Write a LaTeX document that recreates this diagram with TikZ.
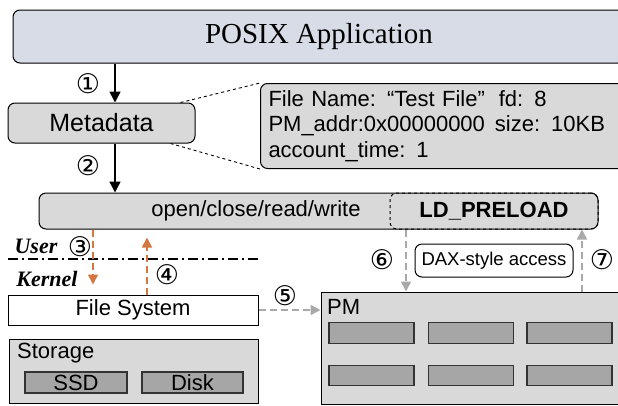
\documentclass[tikz,border=0pt]{standalone}
\usepackage{fontspec}
\setmainfont{Liberation Serif}
\setsansfont{Liberation Sans}
\newfontfamily\circfont{DejaVu Sans}
\usetikzlibrary{arrows.meta}
\definecolor{appblue}{HTML}{D8DCE6}
\definecolor{boxgray}{HTML}{D9D9D9}
\definecolor{chipgray}{HTML}{A6A6A6}
\definecolor{kernelorange}{HTML}{D2773F}
\definecolor{daxgray}{HTML}{A9A9A9}
\newcommand{\fsz}[1]{\fontsize{#1}{#1}\selectfont}
\tikzstyle{layer}=[draw=black, line width=1pt, inner sep=0pt]
\tikzstyle{layer_round}=[layer, rounded corners=7pt]
\tikzstyle{sans_text}=[font=\sffamily\fsz{22}]
\tikzstyle{circ_num}=[font=\circfont\fsz{27}, inner sep=0pt]
\tikzstyle{chip}=[layer, fill=chipgray, draw=black!80, line width=1.2pt]
\tikzstyle{call_arrow}=[line width=1.5pt, -{Triangle[width=11pt,length=11pt]}]
\tikzstyle{kernel_arrow}=[kernelorange, line width=1.6pt, dash pattern=on 7pt off 4pt, -{Triangle[width=10pt,length=10pt]}]
\tikzstyle{dax_arrow}=[daxgray, line width=1.6pt, dash pattern=on 7pt off 4pt, -{Triangle[width=10pt,length=10pt]}]

\begin{document}
\begin{tikzpicture}[x=1pt, y=-1pt]
          \clip (0,0) rectangle (618,405);
          \node[layer_round, fill=appblue, minimum width=612pt, minimum height=53pt, font=\fsz{29}] (posix) at (319,36.5) {POSIX Application};
          \node[layer_round, fill=boxgray, minimum width=187pt, minimum height=40pt, font=\sffamily\fsz{25}] (meta) at (101.5,123) {Metadata};
          \node[layer_round, fill=boxgray, minimum width=365pt, minimum height=85pt, anchor=north west, text width=349pt, align=left, font=\sffamily\fontsize{22}{25.5}\selectfont] (info) at (260,83) {File Name: “Test File”\hspace{14pt}fd: 8\\PM\_addr:0x00000000\hspace{10pt}size: 10KB\\account\_time: 1};
          \draw[dashed, line width=0.9pt] ([xshift=-15pt]meta.north east) -- (info.north west);
          \draw[dashed, line width=0.9pt] ([xshift=-25pt]meta.south east) -- (info.south west);
          \node[layer_round, fill=boxgray, minimum width=559pt, minimum height=36pt] (bar) at (318.5,211) {};
          \node[sans_text] (syscall) at (256,211) {open/close/read/write};
          \node[layer_round, dashed, minimum width=208pt, minimum height=36pt, font=\sffamily\bfseries\fsz{22}] (ld) at (494,211) {LD\_PRELOAD};
          \coordinate (mainx) at (115,0);
          \draw[call_arrow] (posix.south -| mainx) -- (meta.north -| mainx);
          \draw[call_arrow] (meta.south -| mainx) -- (bar.north -| mainx);
          \node[circ_num] (n1) at (88,84) {①};
          \node[circ_num] (n2) at (88,166) {②};
          \node[font=\bfseries\itshape\fsz{22}] (user) at (36,246) {User};
          \node[font=\bfseries\itshape\fsz{22}] (kernel) at (47,279) {Kernel};
          \coordinate (sepL) at (8,259);
          \coordinate (sepR) at (260,259);
          \draw[line width=1.2pt, dash pattern=on 10pt off 4pt on 2pt off 4pt] (sepL) -- (sepR);
          \node[layer, fill=white, minimum width=250pt, minimum height=30pt, sans_text] (fs) at (133,310) {File System};
          \coordinate (downx) at (93,0);
          \coordinate (upx) at (147,0);
          \draw[kernel_arrow, shorten >=10pt] (bar.south -| downx) -- (fs.north -| downx);
          \draw[kernel_arrow, shorten >=8pt] (fs.north -| upx) -- (bar.south -| upx);
          \node[circ_num] (n3) at (80,247) {③};
          \node[circ_num] (n4) at (167,275) {④};
          \node[layer, fill=boxgray, minimum width=304pt, minimum height=112pt] (pm) at (473,348) {};
          \node[sans_text, anchor=west, inner sep=0pt] (pmlabel) at (327,307) {PM};
          \foreach \cx/\i in {371.5/1,471/2,569.5/3}
            \foreach \cy/\j in {333/1,375.5/2}
              \node[chip, minimum width=85pt, minimum height=20.5pt] (chip\i\j) at (\cx,\cy) {};
          \draw[dax_arrow] (fs.east) -- (fs.east -| pm.west);
          \node[circ_num] (n5) at (285,296) {⑤};
          \node[layer, fill=boxgray, minimum width=249pt, minimum height=64pt] (storage) at (133.5,371) {};
          \node[sans_text, anchor=west, inner sep=0pt] (storagelabel) at (17,353) {Storage};
          \node[chip, sans_text, minimum width=102pt, minimum height=21pt] (ssd) at (76,382.5) {SSD};
          \node[chip, sans_text, minimum width=101pt, minimum height=21pt] (disk) at (192.5,382.5) {Disk};
          \node[layer_round, fill=white, minimum width=158pt, minimum height=33pt, font=\sffamily\fsz{18.5}] (dax) at (494,260.5) {DAX-style access};
          \coordinate (daxin) at (406,0);
          \coordinate (daxout) at (582,0);
          \draw[dax_arrow] (ld.south -| daxin) -- (pm.north -| daxin);
          \draw[dax_arrow] (pm.north -| daxout) -- (ld.south -| daxout);
          \node[circ_num] (n6) at (382,260) {⑥};
          \node[circ_num] (n7) at (602,260) {⑦};
        \end{tikzpicture}
\end{document}
